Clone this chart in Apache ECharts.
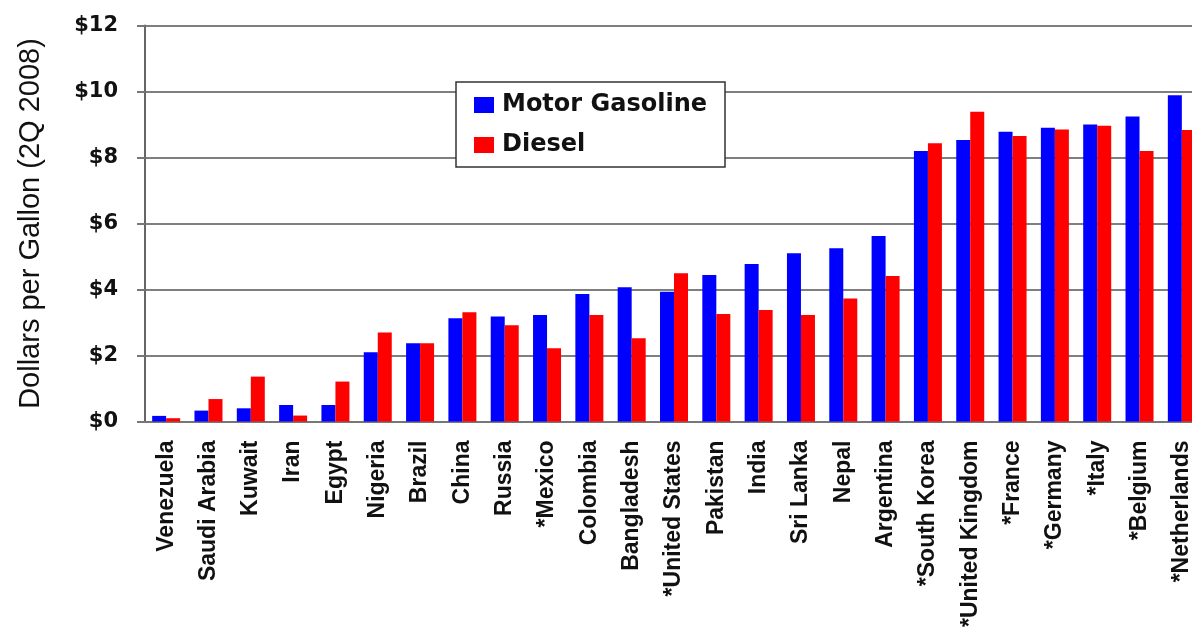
<!DOCTYPE html>
<html>
<head>
	<meta charset="utf-8">
	<title>Fuel prices by country</title>
	<script src="https://cdn.jsdelivr.net/npm/echarts@6/dist/echarts.min.js"></script>
	<style>
		html, body { margin: 0; padding: 0; background: #fff; }
		#main { width: 1192px; height: 638px; }
	</style>
</head>
<body>
<div id="main"></div>
<script type="text/javascript">
// countries, cheapest to most expensive gasoline (* = taxes shown)
var countries = ['Venezuela', 'Saudi Arabia', 'Kuwait', 'Iran', 'Egypt', 'Nigeria', 'Brazil', 'China', 'Russia', '*Mexico',
	'Colombia', 'Bangladesh', '*United States', 'Pakistan', 'India', 'Sri Lanka', 'Nepal', 'Argentina', '*South Korea',
	'*United Kingdom', '*France', '*Germany', '*Italy', '*Belgium', '*Netherlands'];

// dollars per gallon, 2Q 2008
var gasoline = [0.17, 0.33, 0.40, 0.50, 0.50, 2.10, 2.37, 3.13, 3.18, 3.23,
	3.86, 4.07, 3.93, 4.44, 4.77, 5.10, 5.25, 5.62, 8.20,
	8.53, 8.78, 8.90, 9.00, 9.24, 9.89];
var diesel = [0.10, 0.68, 1.36, 0.18, 1.21, 2.70, 2.37, 3.31, 2.92, 2.22,
	3.23, 2.52, 4.49, 3.26, 3.38, 3.23, 3.73, 4.41, 8.43,
	9.39, 8.65, 8.85, 8.96, 8.20, 8.83];

var yTicks = [0, 2, 4, 6, 8, 10, 12];

var myChart = echarts.init(document.getElementById('main'));

var option = {
	animation: false,
	backgroundColor: '#fff',
	grid: {
		left: 145,
		top: 25.5,
		right: -11,
		bottom: 216.5,
		outerBoundsMode: 'none'
	},
	legend: {
		orient: 'vertical',
		left: 456,
		top: 82,
		padding: [11, 18, 10, 18],
		itemGap: 16,
		itemWidth: 20,
		itemHeight: 16,
		borderColor: '#333',
		borderWidth: 1.5,
		backgroundColor: '#fff',
		icon: 'rect',
		textStyle: {
			fontFamily: 'DejaVu Sans',
			fontWeight: 'bold',
			fontSize: 24,
			color: '#111',
			padding: [0, 0, 0, 3]
		},
		data: ['Motor Gasoline', 'Diesel']
	},
	xAxis: {
		type: 'category',
		data: countries,
		axisLine: { lineStyle: { color: '#777', width: 2 } },
		axisTick: { length: 6, lineStyle: { color: '#777', width: 1.5 } },
		axisLabel: {
			rotate: 90,
			margin: 19,
			interval: 0,
			fontFamily: 'Liberation Sans',
			fontWeight: 'bold',
			fontSize: 23,
			color: '#111'
		}
	},
	yAxis: {
		type: 'value',
		min: 0,
		max: 12,
		interval: 2,
		name: 'Dollars per Gallon (2Q 2008)',
		nameLocation: 'middle',
		nameRotate: 90,
		nameGap: 100,
		nameTextStyle: {
			fontFamily: 'Liberation Sans',
			fontSize: 29,
			color: '#111'
		},
		axisLine: { show: true, lineStyle: { color: '#666', width: 2 } },
		axisTick: { show: true, length: 8, lineStyle: { color: '#777', width: 2 } },
		axisLabel: {
			margin: 27,
			fontFamily: 'DejaVu Sans',
			fontWeight: 'bold',
			fontSize: 21,
			color: '#111',
			formatter: function (v) {
				return yTicks.indexOf(v) >= 0 ? '$' + v : '';
			}
		},
		splitLine: { lineStyle: { color: '#7f7f7f', width: 2 } }
	},
	series: [{
		name: 'Motor Gasoline',
		type: 'bar',
		barWidth: 14,
		barGap: '0%',
		itemStyle: { color: '#0000ff' },
		data: gasoline
	}, {
		name: 'Diesel',
		type: 'bar',
		barWidth: 14,
		barGap: '0%',
		itemStyle: { color: '#ff0000' },
		data: diesel
	}]
};

myChart.setOption(option);
</script>
</body>
</html>
